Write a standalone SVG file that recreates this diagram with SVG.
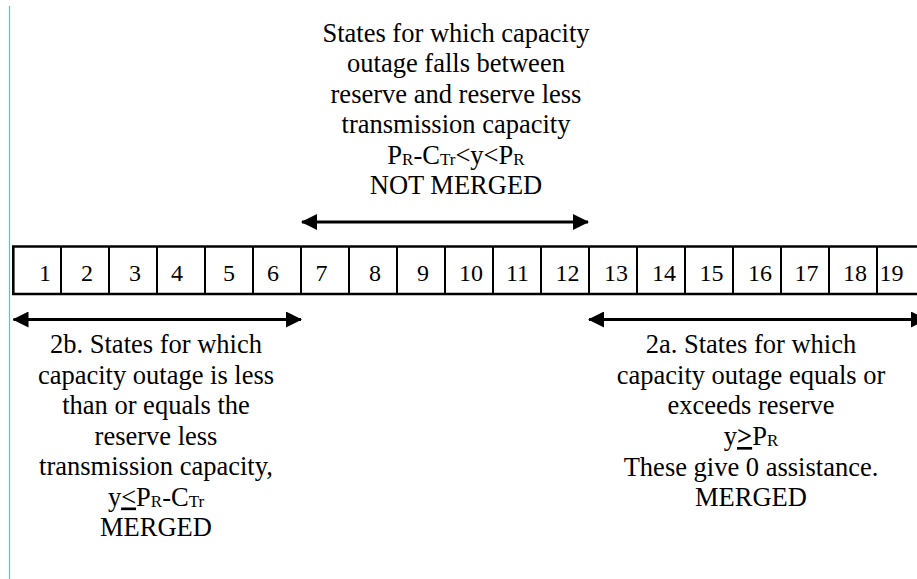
<svg xmlns="http://www.w3.org/2000/svg" width="917" height="579" viewBox="0 0 917 579">
  <style>
    .lbl { font-family: 'Liberation Serif', Tinos, 'DejaVu Serif', serif; font-size: 26.5px; fill: #000; text-anchor: middle; }
    .num { font-family: 'Liberation Serif', Tinos, 'DejaVu Serif', serif; font-size: 24px; fill: #000; text-anchor: middle; }
    .sub { font-size: 17px; }
    .cell { fill: none; stroke: #000; stroke-width: 2; }
    .frame { fill: none; stroke: #000; stroke-width: 2.6; }
    .span { stroke: #000; stroke-width: 3; fill: none; }
  </style>
  <defs>
    <marker id="head" markerUnits="userSpaceOnUse" markerWidth="16" markerHeight="16" viewBox="0 0 16 16" refX="15" refY="8" orient="auto-start-reverse">
      <path d="M0,0 L16,8 L0,16 Z" fill="#000"/>
    </marker>
  </defs>

  <rect width="917" height="579" fill="#fff"/>

  <!-- page margin guide -->
  <line x1="9.5" y1="6" x2="9.5" y2="579" stroke="#00e8f0" stroke-width="1.2"/>

  <!-- strip of numbered states -->
  <g id="states">
    <path class="frame" d="M930,246.5 H13.3 V294 H930"/>
    <path class="cell" d="M61,246.5V294 M109,246.5V294 M157,246.5V294 M205,246.5V294 M253,246.5V294 M301,246.5V294 M349,246.5V294 M397,246.5V294 M445,246.5V294 M493,246.5V294 M541,246.5V294 M589,246.5V294 M637,246.5V294 M685,246.5V294 M733,246.5V294 M781,246.5V294 M829,246.5V294 M877,246.5V294"/>
    <text class="num" y="281">
      <tspan x="45">1</tspan><tspan x="87">2</tspan><tspan x="135">3</tspan><tspan x="177">4</tspan><tspan x="229">5</tspan><tspan x="273">6</tspan><tspan x="321.5">7</tspan><tspan x="375">8</tspan><tspan x="423">9</tspan><tspan x="471">10</tspan><tspan x="517.5">11</tspan><tspan x="567.5">12</tspan><tspan x="616">13</tspan><tspan x="664">14</tspan><tspan x="711.5">15</tspan><tspan x="760">16</tspan><tspan x="806.5">17</tspan><tspan x="855">18</tspan><tspan x="891.5">19</tspan>
    </text>
  </g>

  <!-- range connectors -->
  <g id="connectors">
    <line class="span" x1="302" y1="222" x2="588" y2="222" marker-start="url(#head)" marker-end="url(#head)"/>
    <line class="span" x1="13.5" y1="319.5" x2="301" y2="319.5" marker-start="url(#head)" marker-end="url(#head)"/>
    <line class="span" x1="589" y1="319.5" x2="926" y2="319.5" marker-start="url(#head)" marker-end="url(#head)"/>
  </g>

  <!-- states between the two limits -->
  <g id="not-merged">
    <text class="lbl" x="456" y="41.5">States for which capacity</text>
    <text class="lbl" x="456" y="72">outage falls between</text>
    <text class="lbl" x="456" y="102.5">reserve and reserve less</text>
    <text class="lbl" x="456" y="133">transmission capacity</text>
    <text class="lbl" x="456" y="163.5">P<tspan class="sub" dy="1">R</tspan><tspan dy="-1">-C</tspan><tspan class="sub" dy="1">Tr</tspan><tspan dy="-1">&lt;y&lt;P</tspan><tspan class="sub" dy="1">R</tspan></text>
    <text class="lbl" x="456" y="194">NOT MERGED</text>
  </g>

  <!-- states below the lower limit -->
  <g id="merged-low">
    <text class="lbl" x="156" y="353">2b. States for which</text>
    <text class="lbl" x="156" y="383.5">capacity outage is less</text>
    <text class="lbl" x="156" y="414">than or equals the</text>
    <text class="lbl" x="156" y="444.5">reserve less</text>
    <text class="lbl" x="156" y="475">transmission capacity,</text>
    <text class="lbl" x="156" y="505.5">y<tspan text-decoration="underline">&lt;</tspan>P<tspan class="sub" dy="1">R</tspan><tspan dy="-1">-C</tspan><tspan class="sub" dy="1">Tr</tspan></text>
    <text class="lbl" x="156" y="536">MERGED</text>
  </g>

  <!-- states at or above reserve -->
  <g id="merged-high">
    <text class="lbl" x="751" y="353">2a. States for which</text>
    <text class="lbl" x="751" y="383.5">capacity outage equals or</text>
    <text class="lbl" x="751" y="414">exceeds reserve</text>
    <text class="lbl" x="751" y="445">y<tspan font-weight="bold" text-decoration="underline">&gt;</tspan>P<tspan class="sub" dy="1">R</tspan></text>
    <text class="lbl" x="751" y="475.5">These give 0 assistance.</text>
    <text class="lbl" x="751" y="506">MERGED</text>
  </g>
</svg>
